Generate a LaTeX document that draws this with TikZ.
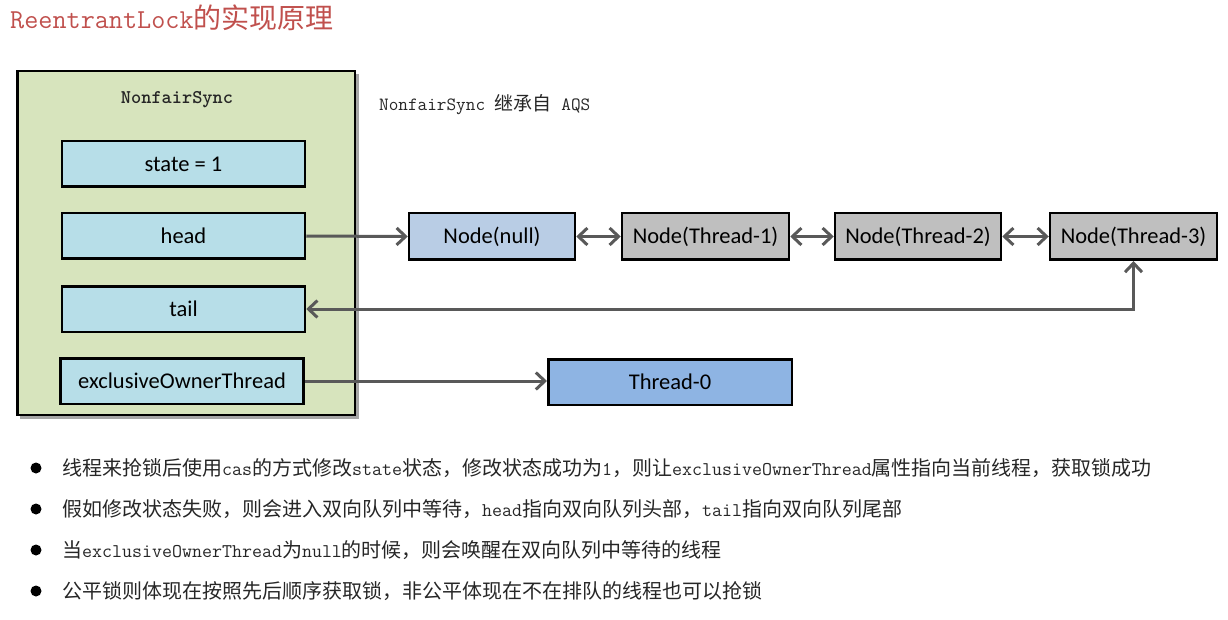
\documentclass[tikz,border=0pt]{standalone}
\usepackage{fontspec}
\setmainfont{Carlito}
\newfontfamily\cjk{Noto Sans CJK SC}
\newcommand\tb[1]{{\fontsize{19.4}{22}\selectfont\ttfamily #1}}
\newcommand\tn[1]{{\fontsize{18.7}{22}\selectfont\ttfamily #1}}
\newcommand\ttl[1]{{\fontsize{27.4}{30}\selectfont\ttfamily #1}}
\usetikzlibrary{arrows.meta}
\definecolor{titlered}{RGB}{192,80,77}
\definecolor{syncgreen}{RGB}{215,228,189}
\definecolor{fieldblue}{RGB}{183,222,232}
\definecolor{nullblue}{RGB}{185,205,229}
\definecolor{threadgray}{RGB}{191,191,191}
\definecolor{ownerblue}{RGB}{142,180,227}
\definecolor{linkgray}{RGB}{89,89,89}
\definecolor{bodytext}{RGB}{38,38,38}
\begin{document}
\begin{tikzpicture}[x=1pt,y=-1pt,
  box/.style={draw=black, line width=2.5pt, inner sep=0pt, text=black, font=\fontsize{22.5}{26}\selectfont},
  field/.style={box, fill=fieldblue, minimum width=243pt, minimum height=45.5pt},
  qnode/.style={box, minimum width=166pt, minimum height=46.5pt},
  tip/.tip={Straight Barb[length=9pt,width=17pt]},
  link/.style={draw=linkgray, line width=3pt, -tip},
  dlink/.style={draw=linkgray, line width=3pt, tip-tip},
  bulletdot/.style={circle, fill=black, inner sep=0pt, minimum size=11pt},
  note/.style={anchor=west, inner sep=0pt, text=bodytext, font=\cjk\fontsize{20}{24}\selectfont}
]
\useasboundingbox (0,0) rectangle (1228,620);
% title
\node[anchor=west, inner sep=0pt, text=titlered, font=\cjk\fontsize{28}{32}\selectfont] (title) at (10,18) {\ttl{ReentrantLock}的实现原理};
% NonfairSync container
\fill[black!35] (20,74) rectangle (359,419);
\draw[line width=2.5pt, fill=syncgreen] (17.25,71.25) rectangle (354.75,414.75);
\node[inner sep=0pt, text=bodytext, font=\fontsize{19.4}{22}\selectfont\ttfamily\bfseries] (synclabel) at (177,100) {NonfairSync};
\node[field] (state) at (183.5,164) {state = 1};
\node[field] (head) at (183.5,236) {head};
\node[field] (tail) at (183.5,309) {tail};
\node[field] (owner) at (182,381) {exclusiveOwnerThread};
% note
\node[anchor=west, inner sep=0pt, text=bodytext, font=\cjk\fontsize{19}{22}\selectfont] (inherit) at (379,105) {\tn{NonfairSync }继承自\tn{ AQS}};
% queue
\node[qnode, fill=nullblue] (n0) at (492,236.5) {Node(null)};
\node[qnode, fill=threadgray, minimum width=167pt] (n1) at (705.5,236.5) {Node(Thread-1)};
\node[qnode, fill=threadgray] (n2) at (918,236.5) {Node(Thread-2)};
\node[qnode, fill=threadgray, minimum width=167pt] (n3) at (1133.5,236.5) {Node(Thread-3)};
\node[box, fill=ownerblue, minimum width=243.5pt, minimum height=45.5pt] (t0) at (670,382) {Thread-0};
% connectors
\draw[link] (head.east) -- (n0.west);
\draw[dlink] (n0.east) -- (n1.west);
\draw[dlink] (n1.east) -- (n2.west);
\draw[dlink] (n2.east) -- (n3.west);
\draw[dlink] (tail.east) -- (tail.east -| n3.south) -- (n3.south);
\draw[link] (owner.east) -- (owner.east -| t0.west);
% bullets
\node[bulletdot] (b1) at (36,468) {};
\node[bulletdot] (b2) at (36,509) {};
\node[bulletdot] (b3) at (36,550) {};
\node[bulletdot] (b4) at (36,591) {};
\node[note] (l1) at (62,468) {线程来抢锁后使用\tb{cas}的方式修改\tb{state}状态，修改状态成功为\tb{1}，则让\tb{exclusiveOwnerThread}属性指向当前线程，获取锁成功};
\node[note] (l2) at (62,509) {假如修改状态失败，则会进入双向队列中等待，\tb{head}指向双向队列头部，\tb{tail}指向双向队列尾部};
\node[note] (l3) at (62,550) {当\tb{exclusiveOwnerThread}为\tb{null}的时候，则会唤醒在双向队列中等待的线程};
\node[note] (l4) at (62,591) {公平锁则体现在按照先后顺序获取锁，非公平体现在不在排队的线程也可以抢锁};
\end{tikzpicture}
\end{document}
